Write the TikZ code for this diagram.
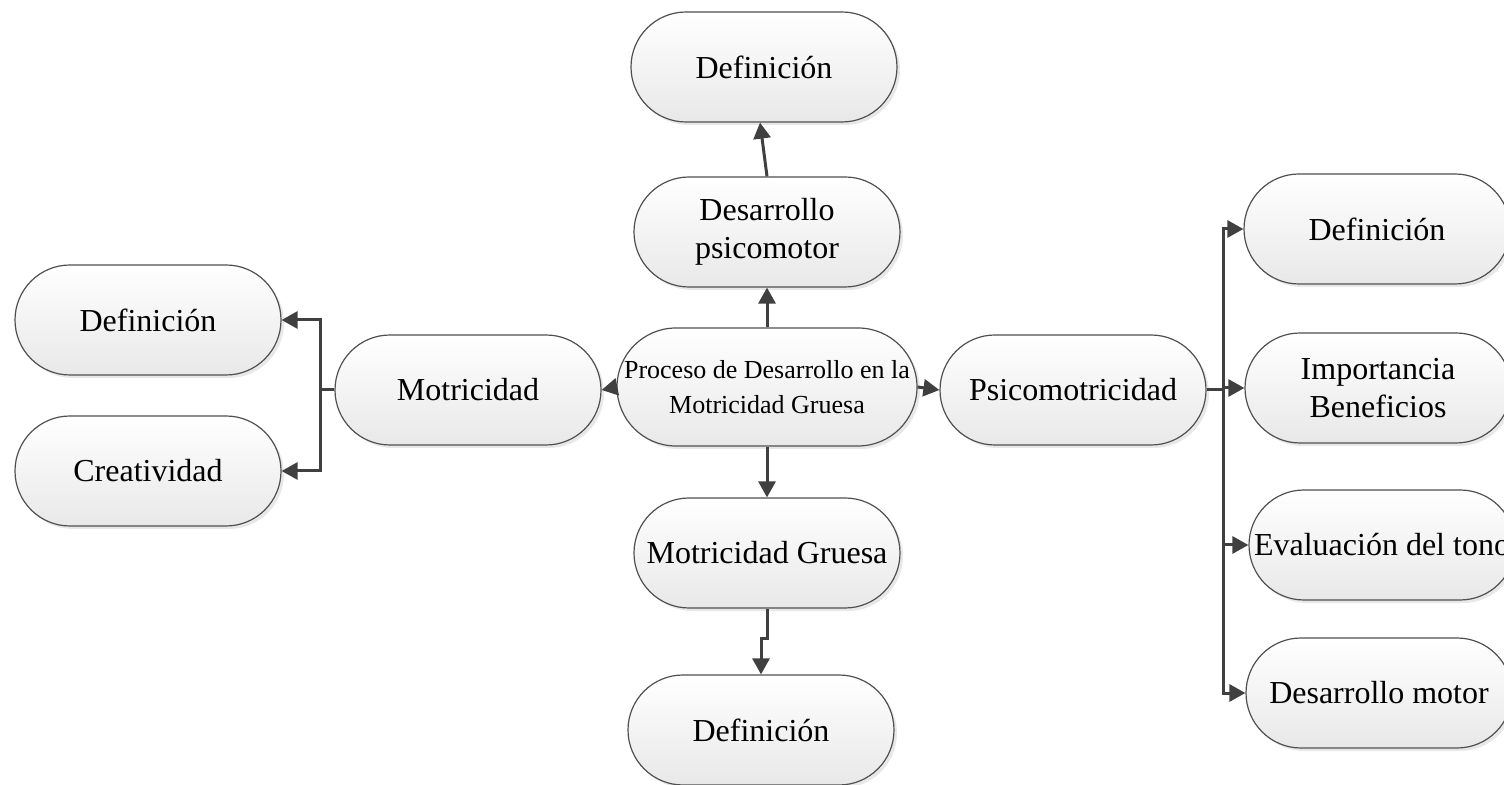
\documentclass[tikz,border=0pt]{standalone}
\usepackage{fontspec}
\setmainfont{Liberation Serif}
\usetikzlibrary{shapes.misc,arrows.meta,shadows}
\definecolor{conncol}{HTML}{404040}
\definecolor{bordercol}{HTML}{505050}
\tikzset{
  pill/.style={rounded rectangle, draw=bordercol, line width=0.6pt,
    top color=white, bottom color=black!9,
    drop shadow={opacity=0.18, shadow xshift=1.5pt, shadow yshift=-1.5pt},
    minimum width=135pt, minimum height=55pt, inner sep=1pt, align=center,
    font=\fontsize{16}{19}\selectfont},
  bigpill/.style={pill, minimum width=152pt, minimum height=59pt,
    font=\fontsize{13}{17.5}\selectfont},
  conn/.style={draw=conncol, line width=1.5pt, -{Triangle[length=8pt,width=8.5pt]}},
  plain/.style={draw=conncol, line width=1.5pt}
}
\begin{document}
\begin{tikzpicture}[x=0.5pt,y=-0.5pt]
\useasboundingbox (0,0) rectangle (1504,785);
\clip (0,0) rectangle (1504,785);
\node[pill] (d1) at (764,67) {Definición};
\node[pill] (dp) at (767,232) {Desarrollo\\psicomotor};
\node[bigpill] (c) at (767,387) {Proceso de Desarrollo en la\\Motricidad Gruesa};
\node[pill] (mot) at (468,390) {Motricidad};
\node[pill] (psi) at (1073,390) {Psicomotricidad};
\node[pill] (mg) at (767,553) {Motricidad Gruesa};
\node[pill] (d4) at (761,730) {Definición};
\node[pill] (ld) at (148,320) {Definición};
\node[pill] (cr) at (148,471) {Creatividad};
\node[pill] (rd) at (1377,229) {Definición};
\node[pill] (ib) at (1378,388) {Importancia\\Beneficios};
\node[pill] (ev) at (1382,545) {Evaluación del tono};
\node[pill] (dm) at (1379,693) {Desarrollo motor};
% center connectors
\draw[conn] (c.north) -- (c.north |- dp.south);
\draw[conn] (dp.north) -- ([xshift=-2pt]d1.south);
\draw[conn] (c.west) -- (mot.east);
\draw[conn] (c.east) -- (psi.west);
\draw[conn] (c.south) -- (c.south |- mg.north);
\draw[conn] (mg.south) -- ++(0,30) -| (d4.north);
% left branch
\draw[plain] (mot.west) -- ++(-14,0) coordinate (lj);
\draw[conn] (lj) |- (ld.east);
\draw[conn] (lj) |- (cr.east);
% right branch
\draw[plain] (psi.east) -- ++(17,0) coordinate (rj);
\draw[conn] (rj) |- (rd.west);
\draw[conn] (rj) |- (ib.west);
\draw[conn] (rj) |- (ev.west);
\draw[conn] (rj) |- (dm.west);
\end{tikzpicture}
\end{document}
